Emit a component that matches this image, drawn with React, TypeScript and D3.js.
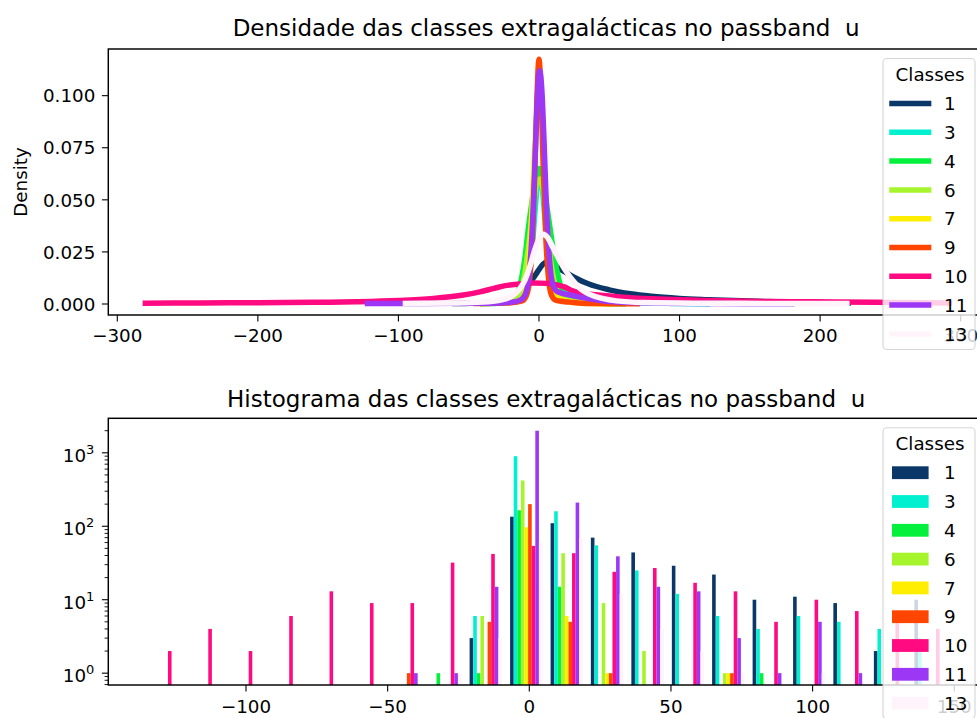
import React from 'react';
import * as d3 from 'd3';

// ---------- data ----------
const classes = ['1', '3', '4', '6', '7', '9', '10', '11', '13'];
const classColors = [
  '#0a3668', '#00f0d0', '#05f03c', '#a6f52c', '#ffee00',
  '#ff4500', '#ff0a80', '#9b37f5', '#fff4fa',
];

type Pt = [number, number];

// Kernel density estimates per class, flux in passband u
const kde1: Pt[] = [[-60, 0.0002], [-40, 0.0006], [-25, 0.0018], [-15, 0.0045], [-8, 0.009], [-3, 0.0135], [0, 0.0165], [3, 0.0192], [6, 0.0203], [10, 0.0192], [15, 0.0168], [20, 0.0148], [26, 0.0125], [35, 0.0097], [50, 0.0068], [65, 0.0049], [80, 0.0037], [100, 0.0027], [120, 0.0021], [150, 0.0014], [180, 0.0009], [220, 0.0005]];
const kde3: Pt[] = [[-40, 0.0002], [-20, 0.0008], [-12, 0.003], [-8, 0.009], [-5, 0.025], [-3, 0.043], [-1, 0.058], [0.5, 0.0635], [2, 0.058], [4, 0.043], [6, 0.026], [8, 0.014], [11, 0.0085], [15, 0.0072], [20, 0.0066], [26, 0.0058], [32, 0.0047], [40, 0.0032], [50, 0.0018], [65, 0.0008], [90, 0.0003], [120, 0.0001]];
const kde4: Pt[] = [[-30, 0.0003], [-20, 0.0015], [-16, 0.004], [-12.5, 0.012], [-10, 0.022], [-7.8, 0.035], [-5, 0.049], [-2.5, 0.06], [0, 0.065], [3, 0.059], [6, 0.045], [8.8, 0.032], [11, 0.022], [12.8, 0.016], [16, 0.007], [20, 0.003], [30, 0.001], [45, 0.0003], [60, 0.0001]];
const kde6: Pt[] = [[-40, 0.0002], [-25, 0.001], [-15, 0.004], [-10, 0.015], [-7, 0.03], [-4, 0.048], [-1.5, 0.058], [1, 0.06], [3.5, 0.052], [6, 0.036], [8.5, 0.02], [11, 0.01], [14, 0.005], [20, 0.002], [30, 0.0008], [45, 0.0003], [60, 0.0001]];
const kde7: Pt[] = [[-25, 0.0003], [-14, 0.0015], [-10, 0.005], [-8, 0.012], [-6.5, 0.026], [-5, 0.045], [-3, 0.075], [-1, 0.097], [0.5, 0.101], [2, 0.092], [4, 0.062], [6, 0.033], [8, 0.015], [10, 0.007], [13, 0.003], [20, 0.0012], [30, 0.0005], [50, 0.0001]];
const kde9: Pt[] = [[-45, 0.0002], [-20, 0.0006], [-12, 0.0015], [-9, 0.004], [-7, 0.01], [-5, 0.027], [-3, 0.062], [-1.5, 0.098], [0, 0.1175], [1.5, 0.1], [3, 0.066], [5, 0.03], [7, 0.011], [9, 0.004], [12, 0.0018], [17, 0.0012], [22, 0.0009], [28, 0.0005], [40, 0.0002], [70, 0.0001]];
const kde10: Pt[] = [[-280, 0.0004], [-240, 0.0005], [-200, 0.0006], [-160, 0.0008], [-130, 0.0011], [-100, 0.0017], [-75, 0.0027], [-55, 0.0042], [-42, 0.0058], [-32, 0.0075], [-24, 0.0088], [-14, 0.0096], [-4, 0.0101], [6, 0.0099], [12, 0.0093], [18, 0.0082], [24, 0.0063], [30, 0.0052], [38, 0.0046], [50, 0.0038], [65, 0.003], [80, 0.0025], [100, 0.002], [125, 0.0016], [150, 0.0013], [180, 0.0011], [210, 0.001], [240, 0.0008], [270, 0.0006], [292, 0.0005]];
const kde11: Pt[] = [[-122, 0.0002], [-95, 0.0002], [-60, 0.0003], [-35, 0.0004], [-20, 0.0008], [-13, 0.002], [-9, 0.006], [-6.5, 0.018], [-4.5, 0.04], [-2.5, 0.075], [-1, 0.101], [0.5, 0.112], [2, 0.103], [3.5, 0.08], [5, 0.052], [7, 0.026], [9, 0.012], [12, 0.0065], [16, 0.0052], [22, 0.0043], [30, 0.0032], [40, 0.002], [50, 0.0012], [65, 0.0007], [90, 0.0004], [130, 0.0002], [180, 0.0001]];
const kde13: Pt[] = [[-95, 0.0003], [-60, 0.0005], [-40, 0.0009], [-28, 0.0018], [-20, 0.0035], [-14, 0.007], [-10, 0.0115], [-6, 0.019], [-3, 0.026], [0, 0.031], [3, 0.0335], [6, 0.032], [10, 0.027], [15, 0.0205], [20, 0.015], [25, 0.0105], [30, 0.007], [36, 0.0047], [45, 0.0027], [55, 0.0015], [75, 0.0007], [110, 0.0004], [160, 0.0003], [219, 0.0002]];
const kdeCurves = [kde1, kde3, kde4, kde6, kde7, kde9, kde10, kde11, kde13];

// Histogram: shared bin edges and counts per class
const histBinEdges = [-136.6, -122.3, -108.1, -93.8, -79.5, -65.3, -51.0, -36.7, -22.5, -8.2, 6.1, 20.3, 34.6, 48.9, 63.1, 77.4, 91.7, 105.9, 120.2, 134.5, 148.8];
const hist1 = [0, 0, 0, 0, 0, 0, 0, 0, 3, 135, 110, 70, 44, 29, 22, 10, 11, 9, 2, 10];
const hist3 = [0, 0, 0, 0, 0, 0, 0, 0, 6, 900, 160, 55, 25, 12, 6, 4, 6, 5, 4, 3];
const hist4 = [0, 0, 0, 0, 0, 0, 0, 1, 1, 165, 15, 0, 0, 0, 0, 1, 0, 0, 0, 0];
const hist6 = [0, 0, 0, 0, 0, 0, 0, 0, 6, 420, 43, 9, 2, 0, 1, 0, 0, 0, 0, 0];
const hist7 = [0, 0, 0, 0, 0, 0, 0, 0, 0, 97, 6, 1, 0, 0, 1, 0, 0, 0, 0, 0];
const hist9 = [0, 0, 0, 0, 0, 0, 1, 0, 5, 200, 5, 1, 0, 0, 1, 0, 0, 0, 0, 0];
const hist10 = [2, 4, 2, 6, 13, 9, 9, 32, 42, 54, 43, 24, 27, 17, 13, 5, 10, 7, 5, 4];
const hist11 = [0, 0, 0, 0, 0, 0, 1, 1, 15, 2000, 210, 39, 15, 13, 3, 1, 5, 1, 0, 0];
const hist13 = [0, 0, 0, 0, 0, 0, 0, 1, 3, 60, 70, 12, 4, 2, 1, 0, 1, 0, 0, 0];
const histCounts = [hist1, hist3, hist4, hist6, hist7, hist9, hist10, hist11, hist13];

const densityXTicks = [-300, -200, -100, 0, 100, 200, 300];
const densityYTicks = [0, 0.025, 0.05, 0.075, 0.1];
const histXTicks = [-100, -50, 0, 50, 100, 150];
const histYExponents = [0, 1, 2, 3];

const densityTitle = 'Densidade das classes extragalácticas no passband  u';
const histTitle = 'Histograma das classes extragalácticas no passband  u';

// ---------- layout ----------
const W = 977;
const H = 718;
const FONT = 'DejaVu Sans';
const FS = 18.3;
const TITLE_FS = 23;
const axLeft = 108.3;
const axRight = 984;
const top1 = 49;
const bot1 = 315;
const top2 = 418.3;
const bot2 = 685;
const spineW = 1.46;
const tickLen = 6.4;

const xD = d3.scaleLinear().domain([-306.4, 316.6]).range([axLeft, axRight]);
const yD = d3.scaleLinear().domain([-0.00528, 0.1224]).range([bot1, top1]);
const xH = d3.scaleLinear().domain([-148.6, 160.5]).range([axLeft, axRight]);
const yH = d3.scaleLog().domain([0.69, 2950]).range([bot2, top2]);

const fmtX = d3.format('d');
const fmtY = d3.format('.3f');

const kdeLine = d3
  .line<Pt>()
  .x((d) => xD(d[0]))
  .y((d) => yD(d[1]))
  .curve(d3.curveMonotoneX);

function Legend({ top, kind }: { top: number; kind: 'line' | 'patch' }) {
  const left = 883;
  const width = 92;
  const height = 291;
  const handleX0 = 892;
  const handleX1 = 928.6;
  return (
    <g>
      <rect x={left} y={top} width={width} height={height} rx={3.7} ry={3.7}
        fill="#ffffff" fillOpacity={0.8} stroke="#cccccc" strokeOpacity={0.8} strokeWidth={1.1} />
      <text x={930} y={top + 22.5} textAnchor="middle" fontSize={FS} fontFamily={FONT} fill="#000">Classes</text>
      {classes.map((c, i) => {
        const cy = top + 45 + i * 28.8;
        return (
          <g key={c}>
            {kind === 'line' ? (
              <line x1={handleX0} x2={handleX1} y1={cy} y2={cy} stroke={classColors[i]}
                strokeWidth={5.5} strokeLinecap="square" />
            ) : (
              <rect x={handleX0} y={cy - 6.4} width={handleX1 - handleX0} height={12.8} fill={classColors[i]} />
            )}
            <text x={944} y={cy + 6.7} fontSize={FS} fontFamily={FONT} fill="#000">{c}</text>
          </g>
        );
      })}
    </g>
  );
}

function DensityPanel() {
  return (
    <g>
      <defs>
        <clipPath id="clipDensity">
          <rect x={axLeft} y={top1} width={axRight - axLeft} height={bot1 - top1} />
        </clipPath>
      </defs>
      <g clipPath="url(#clipDensity)">
        {kdeCurves.map((pts, i) => (
          <path key={classes[i]} d={kdeLine(pts) ?? ''} fill="none" stroke={classColors[i]}
            strokeWidth={5.5} strokeLinecap="square" strokeLinejoin="round" />
        ))}
      </g>
      <rect x={axLeft} y={top1} width={axRight - axLeft} height={bot1 - top1} fill="none"
        stroke="#000" strokeWidth={spineW} />
      {densityXTicks.map((t) => (
        <g key={t}>
          <line x1={xD(t)} x2={xD(t)} y1={bot1} y2={bot1 + tickLen} stroke="#000" strokeWidth={1.1} />
          <text x={xD(t)} y={bot1 + 26.6} textAnchor="middle" fontSize={FS} fontFamily={FONT} fill="#000">
            {fmtX(t)}
          </text>
        </g>
      ))}
      {densityYTicks.map((t) => (
        <g key={t}>
          <line x1={axLeft - tickLen} x2={axLeft} y1={yD(t)} y2={yD(t)} stroke="#000" strokeWidth={1.1} />
          <text x={axLeft - 13} y={yD(t) + 6.7} textAnchor="end" fontSize={FS} fontFamily={FONT} fill="#000">
            {fmtY(t)}
          </text>
        </g>
      ))}
      <text transform={`translate(27,${(top1 + bot1) / 2}) rotate(-90)`} textAnchor="middle"
        fontSize={FS} fontFamily={FONT} fill="#000">Density</text>
      <text x={(axLeft + axRight) / 2} y={36} textAnchor="middle" fontSize={TITLE_FS} fontFamily={FONT} fill="#000"
        style={{ whiteSpace: 'pre' }}>
        {densityTitle}
      </text>
      <Legend top={58.5} kind="line" />
    </g>
  );
}

function HistogramPanel() {
  const nx = classes.length;
  const bars: React.ReactNode[] = [];
  histCounts.forEach((counts, ci) => {
    counts.forEach((v, bi) => {
      if (v <= 0) return;
      const l = histBinEdges[bi];
      const w = histBinEdges[bi + 1] - l;
      const bw = (0.8 * w) / nx;
      const center = l + 0.5 * w - 0.4 * w * (1 - 1 / nx) + ci * bw;
      const x0 = xH(center - bw / 2);
      const x1 = xH(center + bw / 2);
      const yTop = yH(v);
      bars.push(
        <rect key={`${ci}-${bi}`} x={x0} y={yTop} width={x1 - x0} height={bot2 - yTop} fill={classColors[ci]} />
      );
    });
  });
  const minorTicks = yH.ticks().filter((t) => {
    const e = Math.log10(t);
    return Math.abs(e - Math.round(e)) > 1e-6;
  });
  return (
    <g>
      <defs>
        <clipPath id="clipHist">
          <rect x={axLeft} y={top2} width={axRight - axLeft} height={bot2 - top2} />
        </clipPath>
      </defs>
      <g clipPath="url(#clipHist)">{bars}</g>
      <rect x={axLeft} y={top2} width={axRight - axLeft} height={bot2 - top2} fill="none"
        stroke="#000" strokeWidth={spineW} />
      {histXTicks.map((t) => (
        <g key={t}>
          <line x1={xH(t)} x2={xH(t)} y1={bot2} y2={bot2 + tickLen} stroke="#000" strokeWidth={1.1} />
          <text x={xH(t)} y={bot2 + 28.3} textAnchor="middle" fontSize={FS} fontFamily={FONT} fill="#000">
            {fmtX(t)}
          </text>
        </g>
      ))}
      {minorTicks.map((t) => (
        <line key={t} x1={axLeft - 3.7} x2={axLeft} y1={yH(t)} y2={yH(t)} stroke="#000" strokeWidth={0.9} />
      ))}
      {histYExponents.map((e) => {
        const y = yH(Math.pow(10, e));
        return (
          <g key={e}>
            <line x1={axLeft - tickLen} x2={axLeft} y1={y} y2={y} stroke="#000" strokeWidth={1.1} />
            <text x={axLeft - 14} y={y + 9} textAnchor="end" fontSize={FS} fontFamily={FONT} fill="#000">
              10<tspan dy={-8} fontSize={13}>{e}</tspan>
            </text>
          </g>
        );
      })}
      <text x={(axLeft + axRight) / 2} y={406.5} textAnchor="middle" fontSize={TITLE_FS} fontFamily={FONT} fill="#000"
        style={{ whiteSpace: 'pre' }}>
        {histTitle}
      </text>
      <Legend top={427.7} kind="patch" />
    </g>
  );
}

export default function App() {
  return (
    <svg width={W} height={H} viewBox={`0 0 ${W} ${H}`}
      style={{ position: 'absolute', left: 0, top: 0, display: 'block', background: '#fff' }}>
      <rect x={0} y={0} width={W} height={H} fill="#fff" />
      <DensityPanel />
      <HistogramPanel />
    </svg>
  );
}
